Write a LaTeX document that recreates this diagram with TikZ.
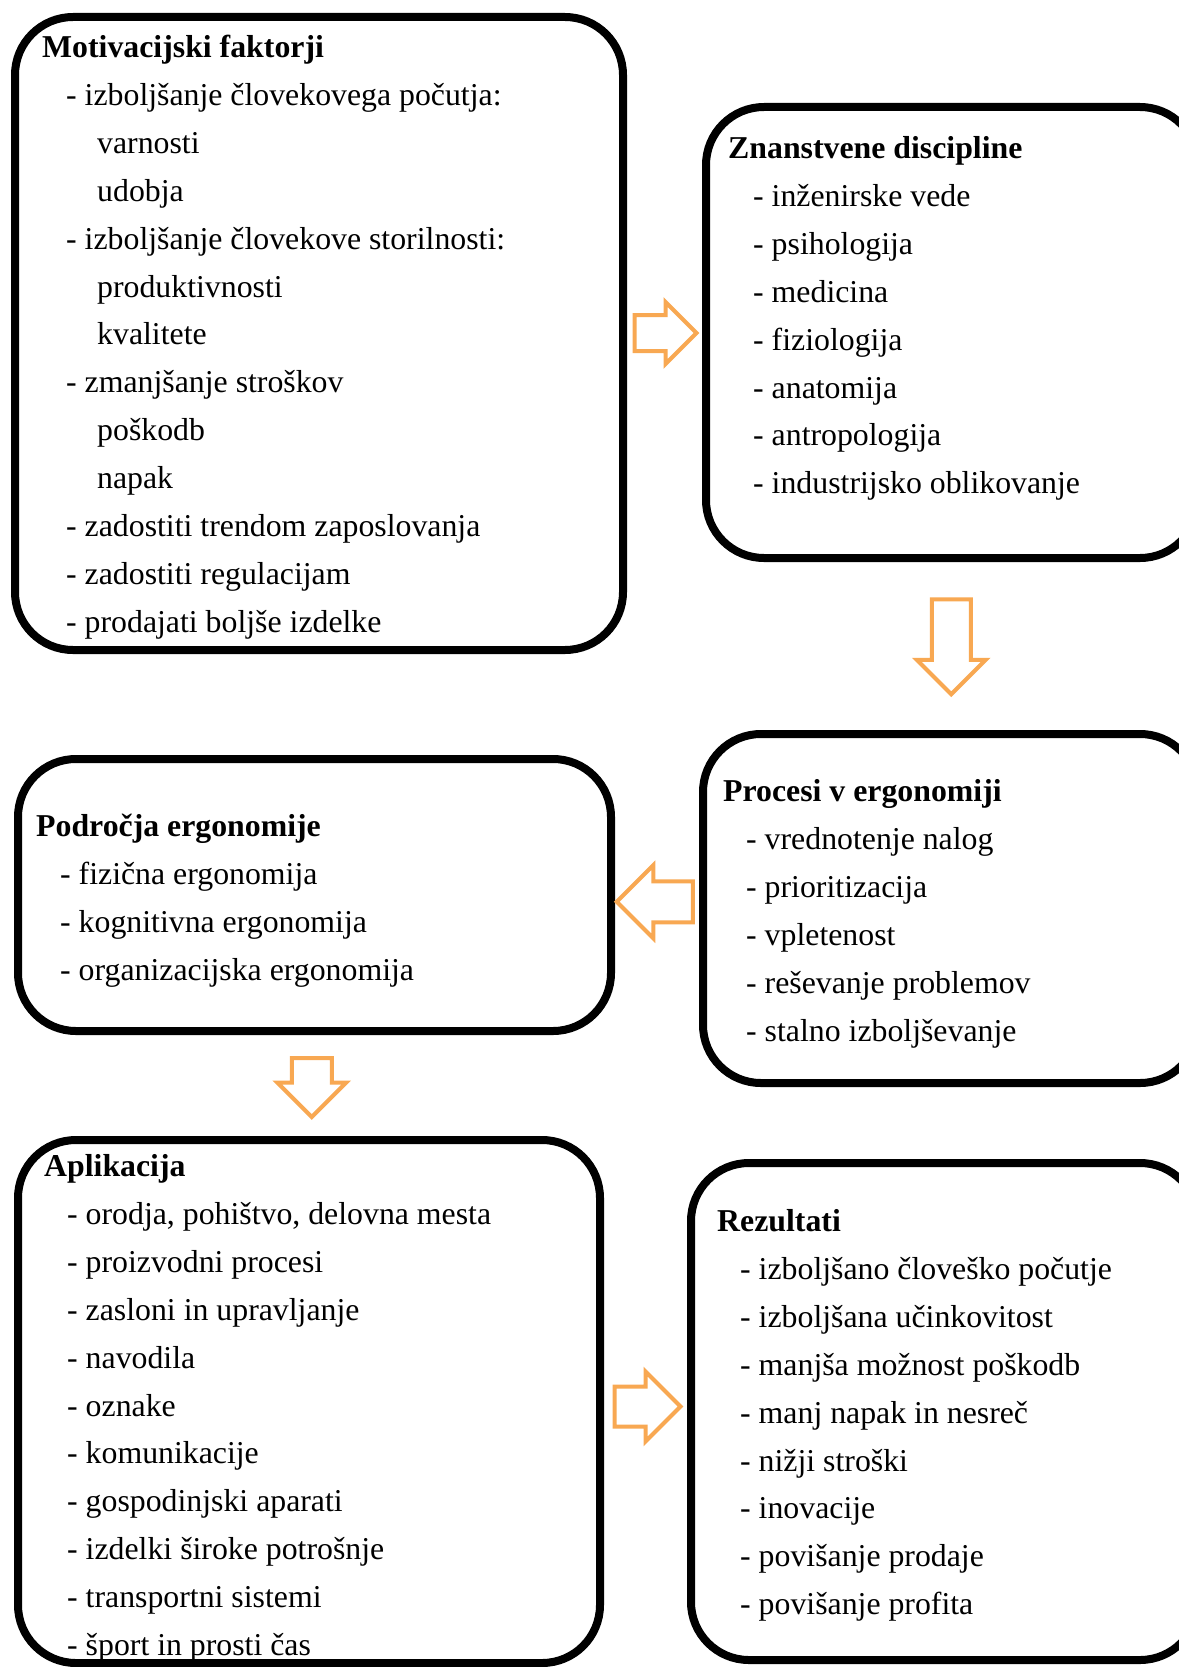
\documentclass[tikz,border=0pt]{standalone}
\usepackage{fontspec}
\setmainfont{Liberation Serif}
\usetikzlibrary{shapes.arrows,calc}
\definecolor{pfeil}{RGB}{248,168,82}

\tikzset{
  box/.style={draw, line width=8pt, rounded corners=58pt, inner sep=0pt},
  txt/.style={anchor=base west, inner sep=0pt, font=\fontsize{31.8}{36}\selectfont},
  title/.style={txt, font=\fontsize{31.8}{36}\selectfont\bfseries},
  barrow/.style={draw=pfeil, line width=4pt, fill=white, single arrow, inner xsep=0pt}
}

\begin{document}
\begin{tikzpicture}[x=1pt, y=-1pt]
\useasboundingbox (0,0) rectangle (1178,1667);

% okvirji
\node[box, minimum width=608pt, minimum height=633pt] (Mot) at (319,333.5) {};
\node[box, minimum width=492pt, minimum height=451pt] (Zna) at (952,332.5) {};
\node[box, minimum width=495pt, minimum height=349pt] (Pro) at (950.5,908.5) {};
\node[box, minimum width=593pt, minimum height=272pt] (Pod) at (314.5,895) {};
\node[box, minimum width=582pt, minimum height=523pt] (Apl) at (309,1401.5) {};
\node[box, minimum width=507pt, minimum height=497pt] (Rez) at (944.5,1411.5) {};

% besedilo
\node[title] (Mot-0) at (42,57.5) {Motivacijski faktorji};
\foreach \d/\t [count=\i] in {0/- izboljšanje človekovega počutja:, 1/varnosti, 1/udobja,
    0/- izboljšanje človekove storilnosti:, 1/produktivnosti, 1/kvalitete,
    0/- zmanjšanje stroškov, 1/poškodb, 1/napak, 0/- zadostiti trendom zaposlovanja,
    0/- zadostiti regulacijam, 0/- prodajati boljše izdelke}
  \node[txt] (Mot-\i) at ({66+31*\d}, {57.5+47.9*\i}) {\t};

\node[title] (Zna-0) at (728,158.5) {Znanstvene discipline};
\foreach \t [count=\i] in {- inženirske vede, - psihologija, - medicina, - fiziologija,
    - anatomija, - antropologija, - industrijsko oblikovanje}
  \node[txt] (Zna-\i) at (753, {158.5+47.9*\i}) {\t};

\node[title] (Pro-0) at (723,801.5) {Procesi v ergonomiji};
\foreach \t [count=\i] in {- vrednotenje nalog, - prioritizacija, - vpletenost,
    - reševanje problemov, - stalno izboljševanje}
  \node[txt] (Pro-\i) at (746, {801.5+47.9*\i}) {\t};

\node[title] (Pod-0) at (36,836.5) {Področja ergonomije};
\foreach \t [count=\i] in {- fizična ergonomija, - kognitivna ergonomija,
    - organizacijska ergonomija}
  \node[txt] (Pod-\i) at (60, {836.5+47.9*\i}) {\t};

\node[title] (Apl-0) at (44,1176.5) {Aplikacija};
\foreach \t [count=\i] in {{- orodja, pohištvo, delovna mesta}, - proizvodni procesi,
    - zasloni in upravljanje, - navodila, - oznake, - komunikacije,
    - gospodinjski aparati, - izdelki široke potrošnje, - transportni sistemi,
    - šport in prosti čas}
  \node[txt] (Apl-\i) at (67, {1176.5+47.9*\i}) {\t};

\node[title] (Rez-0) at (717,1231.5) {Rezultati};
\foreach \t [count=\i] in {- izboljšano človeško počutje, - izboljšana učinkovitost,
    - manjša možnost poškodb, - manj napak in nesreč, - nižji stroški, - inovacije,
    - povišanje prodaje, - povišanje profita}
  \node[txt] (Rez-\i) at (740, {1231.5+47.9*\i}) {\t};

% puscice
\node[barrow, minimum height=62pt, inner ysep=16pt, single arrow head extend=13pt] (a1) at ($(Mot.east)!0.5!(Zna.west)+(-8,0)$) {};
\node[barrow, minimum height=95pt, inner ysep=17.5pt, single arrow head extend=15pt, rotate=-90] (a2) at ($(Zna.south)!0.5!(Pro.north)+(0,-9)$) {};
\node[barrow, minimum height=76pt, inner ysep=18.5pt, single arrow head extend=16pt, rotate=180] (a3) at ($(Pro.west)!0.5!(Pod.east)+(8,0)$) {};
\node[barrow, minimum height=59pt, inner ysep=18pt, single arrow head extend=14.5pt, rotate=-90] (a4) at ($(Pod.south)!0.5!(Apl.north)+(0,-8)$) {};
\node[barrow, minimum height=66pt, inner ysep=18pt, single arrow head extend=15pt] (a5) at ($(Apl.east)!0.5!(Rez.west)+(-8,0)$) {};
\end{tikzpicture}
\end{document}
